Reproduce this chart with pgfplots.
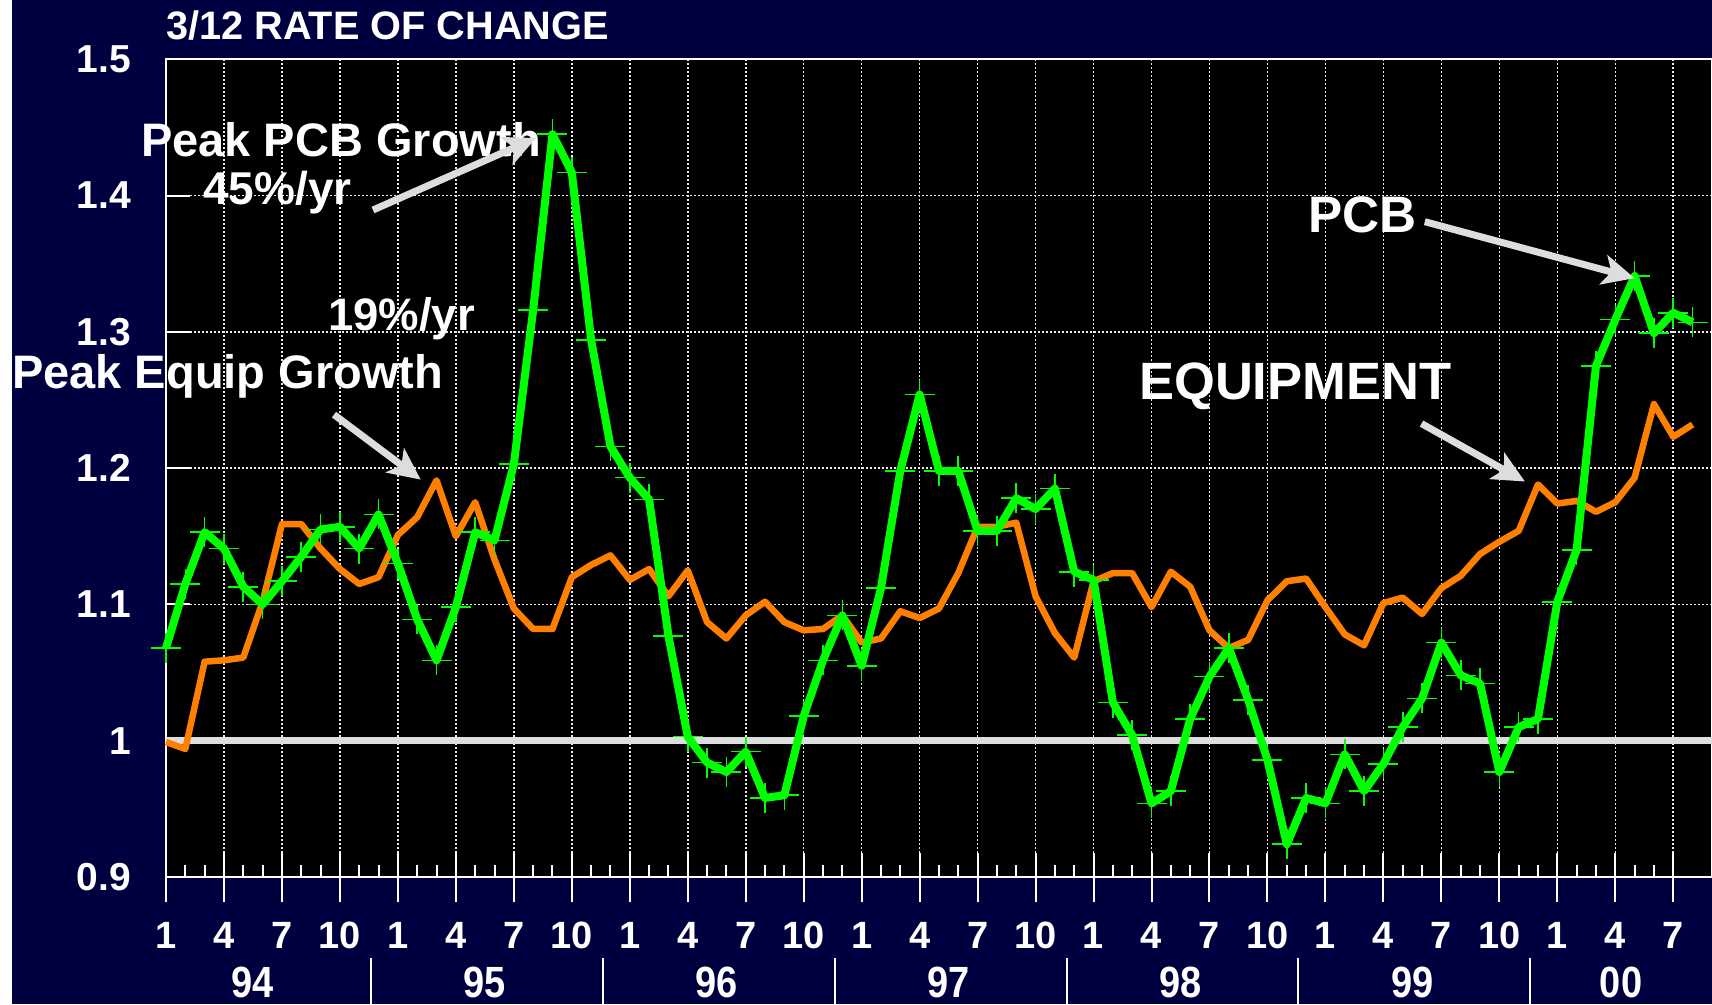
\documentclass[border=0pt]{standalone}
\usepackage{pgfplots}
\pgfplotsset{compat=1.18}
\usepackage{graphicx}
\usepackage{fontspec}
\setmainfont{Liberation Sans}
\usetikzlibrary{arrows.meta}
\definecolor{navy}{RGB}{0,0,64}
\definecolor{pcbgreen}{RGB}{0,255,0}
\definecolor{equiporange}{RGB}{255,128,0}
\definecolor{lgray}{RGB}{221,221,221}

\pgfplotstableread{
m v
0 1.068
1 1.115
2 1.153
3 1.141
4 1.113
5 1.100
6 1.117
7 1.135
8 1.155
9 1.157
10 1.141
11 1.166
12 1.130
13 1.089
14 1.059
15 1.098
16 1.153
17 1.147
18 1.203
19 1.316
20 1.445
21 1.417
22 1.294
23 1.216
24 1.193
25 1.177
26 1.077
27 1.003
28 0.984
29 0.977
30 0.992
31 0.958
32 0.960
33 1.018
34 1.059
35 1.092
36 1.055
37 1.112
38 1.198
39 1.254
40 1.198
41 1.198
42 1.154
43 1.154
44 1.178
45 1.170
46 1.185
47 1.124
48 1.118
49 1.028
50 1.004
51 0.954
52 0.963
53 1.016
54 1.047
55 1.068
56 1.030
57 0.986
58 0.924
59 0.958
60 0.954
61 0.990
62 0.963
63 0.983
64 1.010
65 1.031
66 1.072
67 1.048
68 1.042
69 0.977
70 1.010
71 1.016
72 1.102
73 1.140
74 1.275
75 1.309
76 1.341
77 1.299
78 1.314
79 1.307
}\pcb

\pgfplotstableread{
m v
0 0.999
1 0.994
2 1.058
3 1.059
4 1.061
5 1.102
6 1.159
7 1.159
8 1.141
9 1.126
10 1.115
11 1.120
12 1.151
13 1.164
14 1.191
15 1.150
16 1.175
17 1.133
18 1.097
19 1.082
20 1.082
21 1.120
22 1.129
23 1.136
24 1.118
25 1.126
26 1.106
27 1.125
28 1.087
29 1.075
30 1.092
31 1.102
32 1.087
33 1.081
34 1.082
35 1.092
36 1.072
37 1.075
38 1.095
39 1.090
40 1.097
41 1.123
42 1.157
43 1.157
44 1.160
45 1.106
46 1.079
47 1.061
48 1.117
49 1.123
50 1.123
51 1.098
52 1.124
53 1.113
54 1.081
55 1.068
56 1.074
57 1.103
58 1.117
59 1.119
60 1.098
61 1.078
62 1.070
63 1.101
64 1.105
65 1.093
66 1.112
67 1.121
68 1.137
69 1.146
70 1.154
71 1.188
72 1.174
73 1.176
74 1.168
75 1.175
76 1.193
77 1.247
78 1.223
79 1.232
}\equip

\begin{document}
\begin{tikzpicture}[x=1pt,y=1pt]
\fill[white] (0,0) rectangle (1712,1004);
\fill[navy] (11.5,0) rectangle (1712,1004);
\useasboundingbox (0,0) rectangle (1712,1004);
\begin{axis}[
  at={(166pt,127pt)}, anchor=south west,
  width=1546pt, height=817.7pt, scale only axis,
  xmin=0, xmax=80, ymin=0.9, ymax=1.5,
  clip=false,
  axis background/.style={fill=black},
  axis line style={white, line width=2pt},
  xtick={0,3,...,78},
  xticklabels={1,4,7,10,1,4,7,10,1,4,7,10,1,4,7,10,1,4,7,10,1,4,7,10,1,4,7},
  ytick={0.9,1,1.1,1.2,1.3,1.4,1.5},
  yticklabels={0.9,1,1.1,1.2,1.3,1.4,1.5},
  minor x tick num=2,
  xtick pos=left, ytick pos=left,
  tick align=inside,
  major tick length=24pt, minor tick length=12.5pt,
  tick style={white, line width=2pt},
  extra x ticks={0,3,...,78},
  extra x tick labels={},
  extra x tick style={tick align=outside, major tick length=25pt, grid=none},
  grid=major,
  major grid style={white!92!black, line width=1.6pt, dash pattern=on 2pt off 2pt},
  xticklabel style={font=\fontsize{38}{38}\selectfont\bfseries, text=white, anchor=center, inner sep=0pt, yshift=-58pt},
  yticklabel style={font=\fontsize{39}{39}\selectfont\bfseries, text=white, anchor=east, inner sep=0pt, xshift=-35pt},
]
\addplot[lgray, line width=7.5pt, forget plot] coordinates {(0,1) (80,1)};
\addplot[equiporange, line width=6.5pt, line join=round, no marks] table[x=m,y=v] {\equip};
\addplot[pcbgreen, line width=8pt, line join=round, mark=+, mark size=15pt, mark options={line width=1.6pt, solid}] table[x=m,y=v] {\pcb};
% year separators
\draw[white, line width=2pt] (axis cs:10.6,0.8405) -- (axis cs:10.6,0.80);
\draw[white, line width=2pt] (axis cs:22.6,0.8405) -- (axis cs:22.6,0.80);
\draw[white, line width=2pt] (axis cs:34.6,0.8405) -- (axis cs:34.6,0.80);
\draw[white, line width=2pt] (axis cs:46.6,0.8405) -- (axis cs:46.6,0.80);
\draw[white, line width=2pt] (axis cs:58.6,0.8405) -- (axis cs:58.6,0.80);
\draw[white, line width=2pt] (axis cs:70.6,0.8405) -- (axis cs:70.6,0.80);
% year labels
\node[text=white, font=\fontsize{38}{38}\selectfont\bfseries, inner sep=0pt] at (axis cs:4.5,0.8226) {\scalebox{1}[1.15]{94}};
\node[text=white, font=\fontsize{38}{38}\selectfont\bfseries, inner sep=0pt] at (axis cs:16.5,0.8226) {\scalebox{1}[1.15]{95}};
\node[text=white, font=\fontsize{38}{38}\selectfont\bfseries, inner sep=0pt] at (axis cs:28.5,0.8226) {\scalebox{1}[1.15]{96}};
\node[text=white, font=\fontsize{38}{38}\selectfont\bfseries, inner sep=0pt] at (axis cs:40.5,0.8226) {\scalebox{1}[1.15]{97}};
\node[text=white, font=\fontsize{38}{38}\selectfont\bfseries, inner sep=0pt] at (axis cs:52.5,0.8226) {\scalebox{1}[1.15]{98}};
\node[text=white, font=\fontsize{38}{38}\selectfont\bfseries, inner sep=0pt] at (axis cs:64.5,0.8226) {\scalebox{1}[1.15]{99}};
\node[text=white, font=\fontsize{38}{38}\selectfont\bfseries, inner sep=0pt] at (axis cs:75.3,0.8226) {\scalebox{1}[1.15]{00}};
\end{axis}
\node[anchor=base west, text=white, inner sep=0pt, font=\fontsize{39.7}{40}\selectfont\bfseries] at (166,964.7) {3/12 RATE OF CHANGE};
% annotations
\node[anchor=base west, text=white, inner sep=0pt, font=\fontsize{47}{47}\selectfont\bfseries] at (141,847.3) {Peak PCB Growth};
\node[anchor=base west, text=white, inner sep=0pt, font=\fontsize{46}{46}\selectfont\bfseries] at (203,799.7) {45\%/yr};
\node[anchor=base west, text=white, inner sep=0pt, font=\fontsize{45.5}{46}\selectfont\bfseries] at (328,673.3) {19\%/yr};
\node[anchor=base west, text=white, inner sep=0pt, font=\fontsize{47}{47}\selectfont\bfseries] at (12,615) {Peak Equip Growth};
\node[anchor=base west, text=white, inner sep=0pt, font=\fontsize{51.3}{52}\selectfont\bfseries] at (1308,771.3) {PCB};
\node[anchor=base west, text=white, inner sep=0pt, font=\fontsize{52.5}{53}\selectfont\bfseries] at (1139,604.7) {EQUIPMENT};
\draw[lgray, line width=7pt, -{Stealth[length=32pt, width=30pt, inset=8pt]}] (373,794) -- (536,866);
\draw[lgray, line width=7pt, -{Stealth[length=32pt, width=30pt, inset=8pt]}] (334,589.4) -- (420.7,524.4);
\draw[lgray, line width=7pt, -{Stealth[length=32pt, width=30pt, inset=8pt]}] (1424.8,782.3) -- (1634.6,725.8);
\draw[lgray, line width=7pt, -{Stealth[length=32pt, width=30pt, inset=8pt]}] (1421.5,580.4) -- (1524.9,522.5);
\end{tikzpicture}
\end{document}
